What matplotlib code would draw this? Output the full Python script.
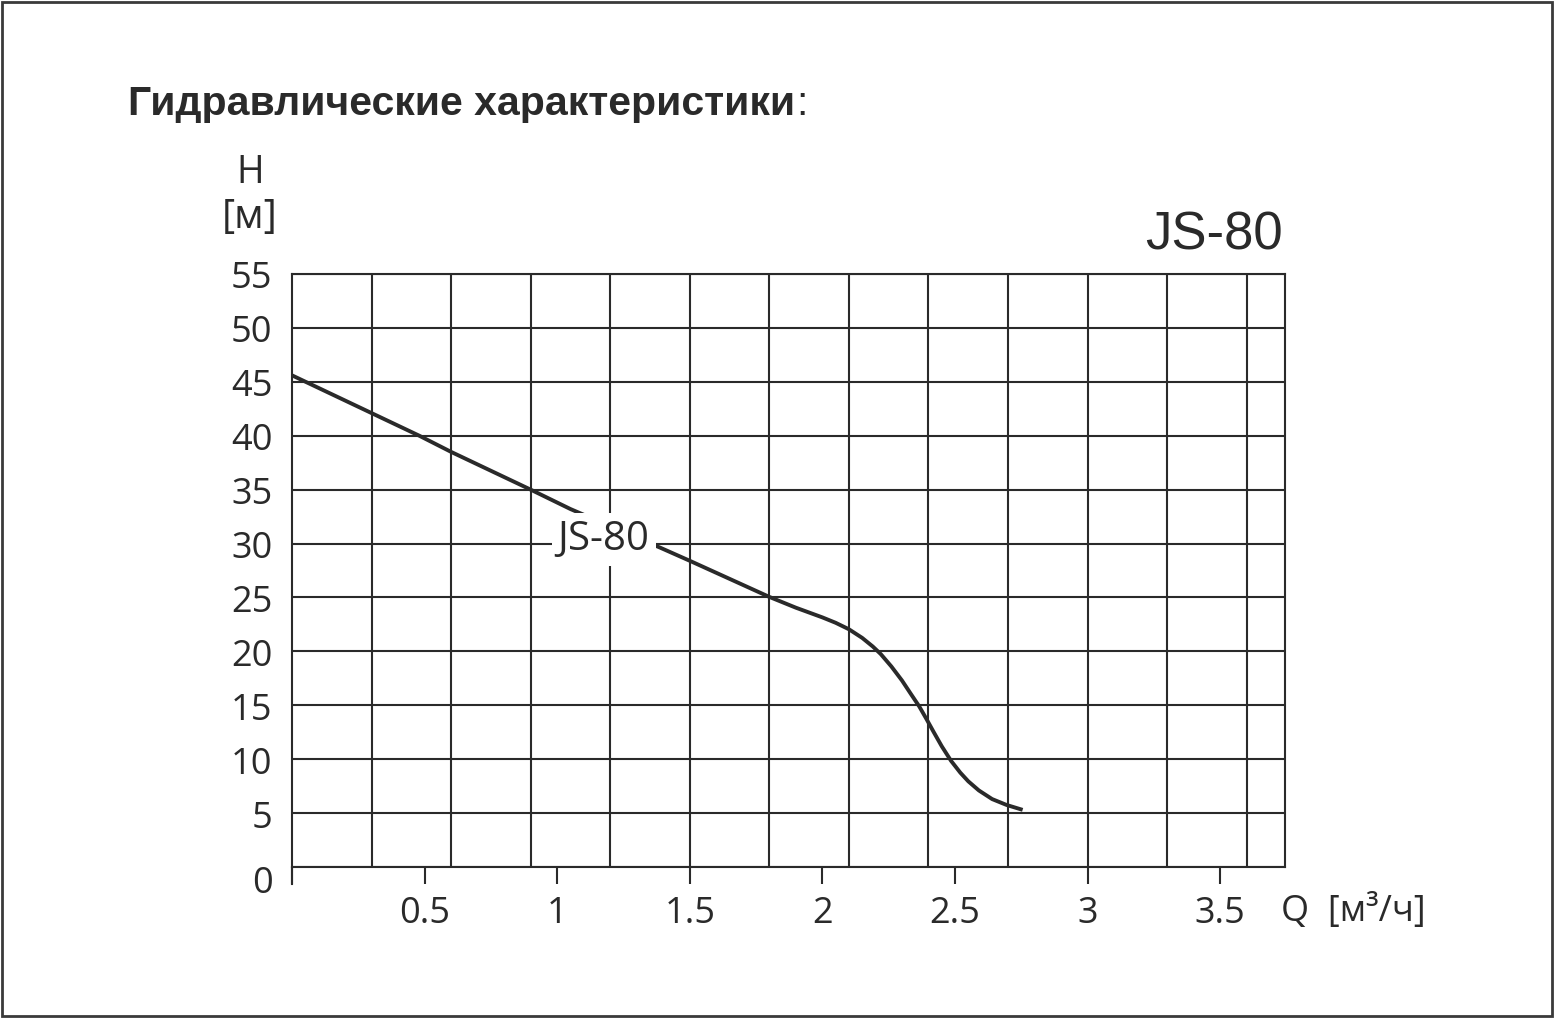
import matplotlib
matplotlib.use('Agg')
import numpy as np
import matplotlib.pyplot as plt
from matplotlib.patches import Rectangle
import matplotlib.transforms as mtransforms

q_vals = [0.0, 0.30, 0.48, 0.60, 0.90, 1.05, 1.39, 1.50, 1.80, 1.90, 2.00, 2.05,
          2.10, 2.15, 2.19, 2.22, 2.26, 2.30, 2.335, 2.365, 2.393, 2.42, 2.45,
          2.485, 2.52, 2.55, 2.59, 2.64, 2.695, 2.755]
h_vals = [45.6, 42.1, 40.0, 38.5, 35.0, 33.2, 29.6, 28.4, 25.05, 24.05, 23.15, 22.65,
          22.05, 21.25, 20.45, 19.75, 18.6, 17.3, 16.0, 14.9, 13.7, 12.5, 11.2,
          9.85, 8.75, 7.95, 7.1, 6.3, 5.75, 5.3]
x_ticks = [0, 0.5, 1, 1.5, 2, 2.5, 3, 3.5]
x_tick_labels = ['', '0.5', '1', '1.5', '2', '2.5', '3', '3.5']
y_ticks = [0, 5, 10, 15, 20, 25, 30, 35, 40, 45, 50, 55]
model = 'JS-80'
title = 'Гидравлические характеристики'

ink = '#2a2a2a'
tick_font = 'Open Sans'
px_per_q = 265.2

fig = plt.figure(figsize=(15.55, 10.2), dpi=100)
ax = fig.add_axes([292 / 1555, 152 / 1020, 993 / 1555, 593 / 1020])

# vertical grid every 0.3, independent of the ticks
for gx in np.arange(0.3, 3.61, 0.3):
    ax.axvline(gx, color=ink, lw=1.5, zorder=1)
ax.grid(True, which='major', axis='y', color=ink, lw=1.5)
ax.set_axisbelow(True)

ax.plot(q_vals, h_vals, color=ink, lw=2.8, solid_capstyle='butt',
        solid_joinstyle='round', zorder=3)
ax.text(1.175, 30.4, model, ha='center', va='center', fontsize=29, family=tick_font,
        color=ink, zorder=4,
        bbox=dict(boxstyle='square,pad=0.15', fc='white', ec='none'))

ax.set_xlim(0, 993 / px_per_q)
ax.set_ylim(0, 55)
ax.set_xticks(x_ticks)
ax.set_xticklabels(x_tick_labels)
ax.set_yticks(y_ticks)
ax.tick_params(axis='x', direction='out', length=12, width=1.5,
               color=ink, pad=8, labelsize=26, labelcolor=ink)
ax.tick_params(axis='y', length=0, pad=14, labelsize=26, labelcolor=ink)
for lab in ax.get_xticklabels() + ax.get_yticklabels():
    lab.set_family(tick_font)
for lab in ax.get_yticklabels():
    if lab.get_text() == '0':
        lab.set_transform(lab.get_transform() +
                          mtransforms.ScaledTranslation(0, -0.12, fig.dpi_scale_trans))
for s in ax.spines.values():
    s.set_color(ink)
    s.set_linewidth(1.5)

# left axis line runs a bit below zero
ax.plot([0, 0], [0, -1.6], color=ink, lw=1.5, clip_on=False)

fig.text(250 / 1555, 1 - 173 / 1020, 'H', ha='center', va='center', fontsize=27,
         family=tick_font, color=ink)
fig.text(250 / 1555, 1 - 218 / 1020, '[м]', ha='center', va='center', fontsize=29,
         family=tick_font, color=ink)
fig.text(1281 / 1555, 1 - 912 / 1020, 'Q  [м³/ч]', ha='left', va='center', fontsize=26,
         family=tick_font, color=ink)

fig.text(1283 / 1555, 1 - 236 / 1020, model, ha='right', va='center', fontsize=38,
         family='Liberation Sans', color=ink)

t = fig.text(128 / 1555, 1 - 115 / 1020, title, ha='left', va='baseline', fontsize=29.5,
             family='Liberation Sans', weight='bold', color=ink)
fig.canvas.draw()
bb = t.get_window_extent()
fig.text(bb.x1 / 1555 + 0.001, 1 - 115 / 1020, ':', ha='left', va='baseline', fontsize=29.5,
         family='Liberation Sans', color=ink)

fig.patches.append(Rectangle((2 / 1555, 3 / 1020), 1550 / 1555, 1014 / 1020,
                             transform=fig.transFigure, fill=False, ec='#3a3a3a', lw=2))

fig.savefig('out.png', dpi=100)
